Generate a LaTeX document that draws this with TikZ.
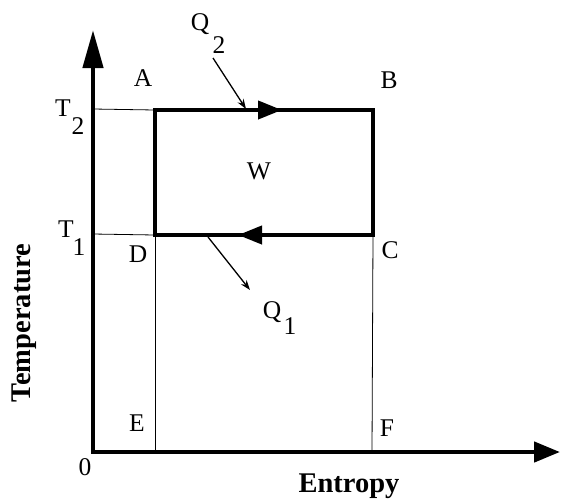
\documentclass[tikz,border=0pt]{standalone}
\usepackage{fontspec}
\setmainfont{Liberation Serif}
\usetikzlibrary{arrows.meta}
\begin{document}
\begin{tikzpicture}[x=1pt,y=-1pt,
  axisline/.style={line width=4.5pt,line join=miter,{Triangle[length=38pt,width=20pt]}-{Triangle[length=26pt,width=20pt]}},
  cyc/.style={line width=4pt,line join=miter},
  cycarrow/.style={line width=4pt,-{Triangle[length=24pt,width=18pt]}},
  thinline/.style={line width=0.8pt},
  heat/.style={line width=1.3pt,-{Stealth[length=10pt,width=7pt]}},
  lbl/.style={font=\fontsize{25.5}{25.5}\selectfont,inner sep=0pt},
  axlbl/.style={font=\fontsize{28.5}{28.5}\selectfont\bfseries,inner sep=0pt}]
\useasboundingbox (0,0) rectangle (561,499);
% points
\coordinate (O) at (93,452);
\coordinate (ytip) at (93,30);
\coordinate (xtip) at (560,452);
\coordinate (A) at (155,110);
\coordinate (B) at (373,110);
\coordinate (C) at (373,235);
\coordinate (D) at (155,235);
\coordinate (E) at (155,452);
\coordinate (F) at (372,452);
\coordinate (yT2) at (93,109);
\coordinate (yT1) at (93,234);
\coordinate (topmid) at (282,110);
\coordinate (botmid) at (238,235);
\coordinate (q2s) at (213,58);
\coordinate (q2e) at (246,109);
\coordinate (q1s) at (208,237);
\coordinate (q1e) at (250,290);
% thin lines
\draw[thinline] (yT2) -- (A);
\draw[thinline] (yT1) -- (D);
\draw[thinline] (D) -- (E);
\draw[thinline] (C) -- (F);
% axes
\draw[axisline] (ytip) -- (O) -- (xtip);
% cycle
\draw[cyc] (A) -- (B) -- (C) -- (D) -- cycle;
\draw[cycarrow] (A) -- (topmid);
\draw[cycarrow] (C) -- (botmid);
% heat arrows
\draw[heat] (q2s) -- (q2e);
\draw[heat] (q1s) -- (q1e);
% labels
\node[lbl] (lA) at (143,78) {A};
\node[lbl] (lB) at (389,80) {B};
\node[lbl] (lC) at (390,250) {C};
\node[lbl] (lD) at (138,254) {D};
\node[lbl] (lE) at (137,423) {E};
\node[lbl] (lF) at (387,428) {F};
\node[lbl] (lW) at (259,171) {W};
\node[lbl] (l0) at (85,467) {0};
\node[lbl] (lT2) at (63,108) {T};
\node[lbl] (lT2s) at (78,126) {2};
\node[lbl] (lT1) at (66,229) {T};
\node[lbl] (lT1s) at (79,247) {1};
\node[lbl] (lQ2) at (200,24) {Q};
\node[lbl] (lQ2s) at (219,45) {2};
\node[lbl] (lQ1) at (272,312) {Q};
\node[lbl] (lQ1s) at (290,326) {1};
\node[axlbl] (xl) at (349,486) {Entropy};
\node[axlbl,rotate=90] (yl) at (24,323) {Temperature};
\end{tikzpicture}
\end{document}
